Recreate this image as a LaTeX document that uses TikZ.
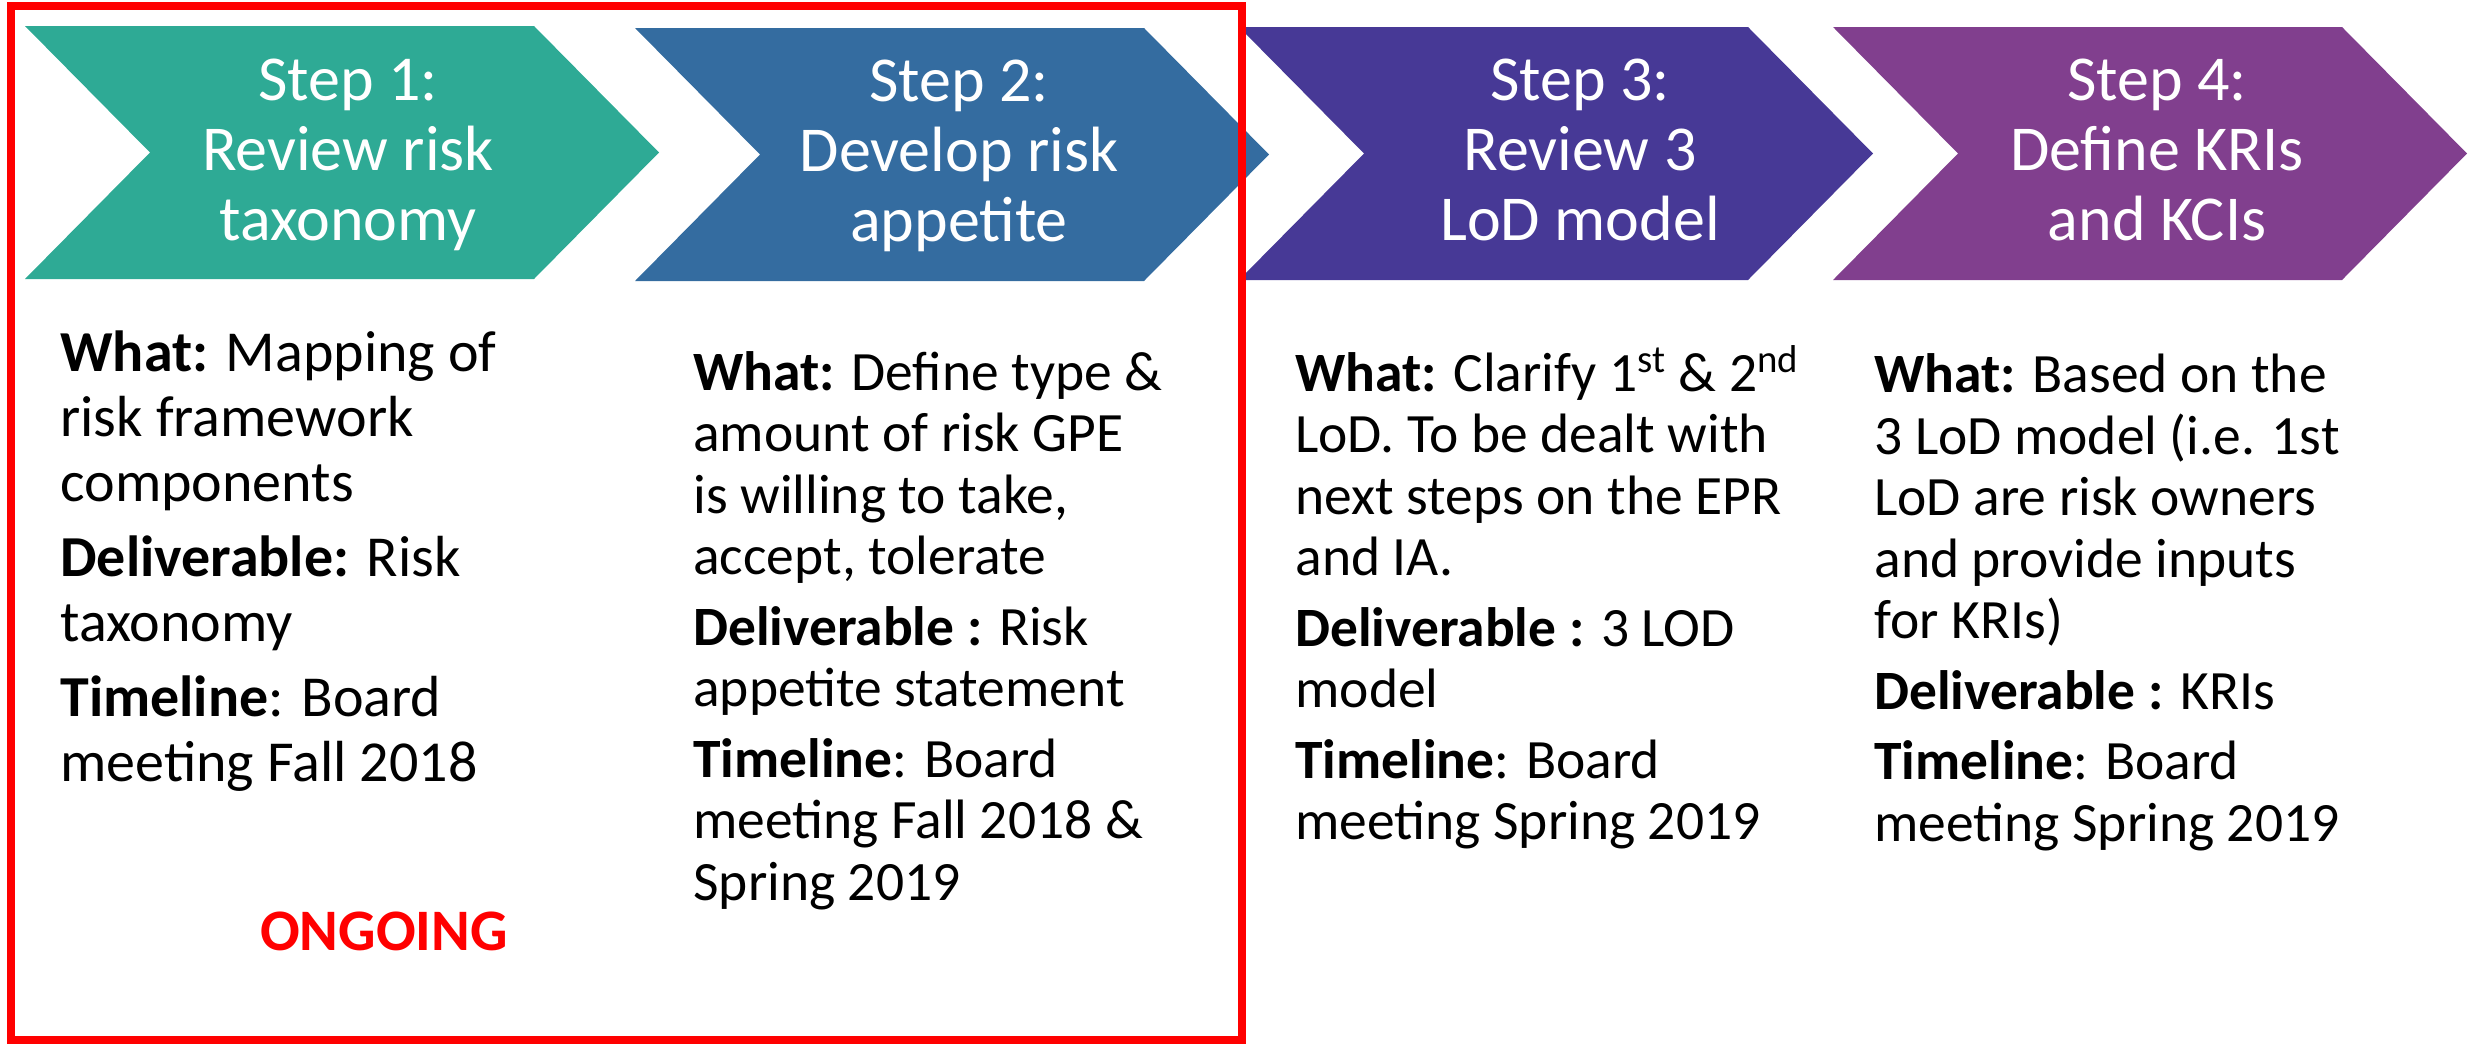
\documentclass[tikz,border=0pt]{standalone}
\usepackage{fontspec}
\setmainfont{Carlito}
\definecolor{stepteal}{HTML}{2EAA95}
\definecolor{stepblue}{HTML}{346CA0}
\definecolor{stepindigo}{HTML}{473996}
\definecolor{steppurple}{HTML}{813F8E}
\definecolor{ongoingred}{HTML}{FF0000}

% chevron: left x, top y, bottom y, fill colour
\newcommand\stepchevron[4]{%
  \fill[#4] (#1,#2) -- ({#1+509},#2) -- ({#1+634},{(#2+#3)/2})
    -- ({#1+509},#3) -- (#1,#3) -- ({#1+125},{(#2+#3)/2}) -- cycle;}

\begin{document}
\begin{tikzpicture}[x=0.5pt,y=-0.5pt,
  % multi-line nodes are placed by the baseline of their last line
  steptitle/.style={text=white, align=center, inner sep=0pt, anchor=base,
    font=\fontsize{32}{35}\selectfont},
  bodytext/.style={align=left, inner sep=0pt, anchor=base west,
    font=\fontsize{27.75}{30.75}\selectfont},
  bodylarge/.style={bodytext, font=\fontsize{29}{32.5}\selectfont},
  ongoing/.style={text=ongoingred, inner sep=0pt, anchor=base,
    font=\fontsize{29.4}{32}\selectfont\bfseries},
  frame/.style={draw=ongoingred, line width=4pt}]

\useasboundingbox (0,0) rectangle (2468,1044);

% the four process chevrons
\stepchevron{25}{26}{279}{stepteal}
\stepchevron{635}{28}{281}{stepblue}
\stepchevron{1239}{27}{280}{stepindigo}
\stepchevron{1833}{27}{280}{steppurple}

% chevron titles
\node[steptitle] (title1) at (348,240) {Step 1:\\Review risk\\taxonomy};
\node[steptitle] (title2) at (959,241) {Step 2:\\Develop risk\\appetite};
\node[steptitle] (title3) at (1580,240) {Step 3:\\Review 3\\LoD model};
\node[steptitle] (title4) at (2157,240) {Step 4:\\Define KRIs\\and KCIs};

% descriptions under each step
\node[bodylarge] (desc1) at (60,781) {%
  \textbf{What:} Mapping of\\risk framework\\components\\[5pt]
  \textbf{Deliverable:} Risk\\taxonomy\\[5pt]
  \textbf{Timeline}: Board\\meeting Fall 2018};

\node[bodytext] (desc2) at (693,900) {%
  \textbf{What:} Define type \&\\amount of risk GPE\\is willing to take,\\accept, tolerate\\[4.5pt]
  \textbf{Deliverable :} Risk\\appetite statement\\[4.5pt]
  \textbf{Timeline}: Board\\meeting Fall 2018 \&\\Spring 2019};

\node[bodytext] (desc3) at (1295,839.5) {%
  \textbf{What:} Clarify 1\textsuperscript{st} \& 2\textsuperscript{nd}\\LoD. To be dealt with\\next steps on the EPR\\and IA.\\[4.5pt]
  \textbf{Deliverable :} 3 LOD\\model\\[4.5pt]
  \textbf{Timeline}: Board\\meeting Spring 2019};

\node[bodytext] (desc4) at (1874,841) {%
  \textbf{What:} Based on the\\3 LoD model (i.e. 1st\\LoD are risk owners\\and provide inputs\\for KRIs)\\[4.5pt]
  \textbf{Deliverable :} KRIs\\[4.5pt]
  \textbf{Timeline}: Board\\meeting Spring 2019};

% status of the first two steps
\node[ongoing] (status) at (384,950) {ONGOING};
\draw[frame] (11,6) rectangle (1242,1040);

\end{tikzpicture}
\end{document}
